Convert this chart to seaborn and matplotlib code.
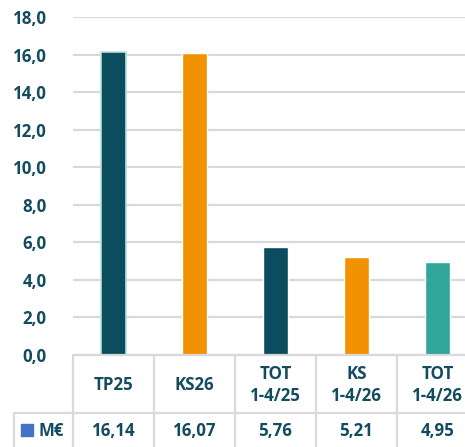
import matplotlib
matplotlib.use("Agg")
import matplotlib.pyplot as plt
import matplotlib.transforms as mtransforms
import seaborn as sns
import pandas as pd

categories = ["TP25", "KS26", "TOT\n1-4/25", "KS\n1-4/26", "TOT\n1-4/26"]
values = [16.14, 16.07, 5.76, 5.21, 4.95]
value_labels = ["16,14", "16,07", "5,76", "5,21", "4,95"]
series_name = "M€"
bar_colors = ["#0b4c5f", "#f39200", "#0b4c5f", "#f39200", "#30a79a"]
y_ticks = [0, 2, 4, 6, 8, 10, 12, 14, 16, 18]

TEXT = "#134c5e"
GRID = "#d9d9d9"
FONT = "Open Sans"
FS = 12.2

W, H = 465, 447
fig = plt.figure(figsize=(W / 100, H / 100), dpi=100)
sns.set_style("white")
plt.rcParams["font.family"] = [FONT, "DejaVu Sans"]

def fx(px):
    return px / W

def fy(py):
    return 1 - py / H

left, right, top, bottom = 73, 465, 17, 355
ax = fig.add_axes([fx(left), fy(bottom), fx(right - left), (bottom - top) / H])

df = pd.DataFrame({"cat": categories, "val": values})
sns.barplot(data=df, x="cat", y="val", hue="cat", palette=bar_colors,
            width=0.32, legend=False, ax=ax, saturation=1)
ax.patches[0].set_edgecolor("#b8e0dc")
ax.patches[0].set_linewidth(1.2)

cat_w = 81
ax.set_xlim(-0.5, -0.5 + (right - left) / cat_w)
ax.set_ylim(0, 18)
ax.set_yticks(y_ticks)
ax.set_yticklabels([f"{t:.1f}".replace(".", ",") for t in y_ticks],
                   fontsize=FS, fontweight="bold", color=TEXT)
ax.tick_params(axis="y", length=0, pad=19)
ax.set_xticks([])
ax.set_xlabel("")
ax.set_ylabel("")
ax.yaxis.grid(True, color=GRID, linewidth=1.6)
ax.set_axisbelow(True)
for s in ax.spines.values():
    s.set_visible(False)

# Data table under the plot
trans = mtransforms.blended_transform_factory(ax.transData, fig.transFigure)
row_split = 413
n = len(categories)
for i in range(n + 1):
    x = i - 0.5
    ax.plot([x, x], [fy(bottom), fy(H + 2)], transform=trans, color=GRID,
            lw=1.6, clip_on=False)
ax.plot([-0.5, n], [fy(bottom), fy(bottom)], transform=trans, color=GRID,
        lw=1.6, clip_on=False)
fig.add_artist(plt.Line2D([fx(14), 1], [fy(row_split), fy(row_split)],
                          color=GRID, lw=1.6, transform=fig.transFigure))
fig.add_artist(plt.Line2D([fx(14), fx(14)], [fy(row_split), fy(H + 2)],
                          color=GRID, lw=1.6, transform=fig.transFigure))

for i, (c, v) in enumerate(zip(categories, value_labels)):
    ax.text(i, fy(385), c, transform=trans, ha="center", va="center",
            fontsize=FS, fontweight="bold", color=TEXT,
            linespacing=1.3, clip_on=False)
    ax.text(i, fy(431), v, transform=trans, ha="center", va="center",
            fontsize=FS, fontweight="bold", color=TEXT, clip_on=False)

fig.patches.append(plt.Rectangle((fx(21), fy(436)), fx(12), 12 / H,
                                 color="#4472c4", transform=fig.transFigure))
fig.text(fx(38), fy(431), series_name, ha="left", va="center",
         fontsize=FS, fontweight="bold", color=TEXT)

fig.savefig("out.png", dpi=100)
